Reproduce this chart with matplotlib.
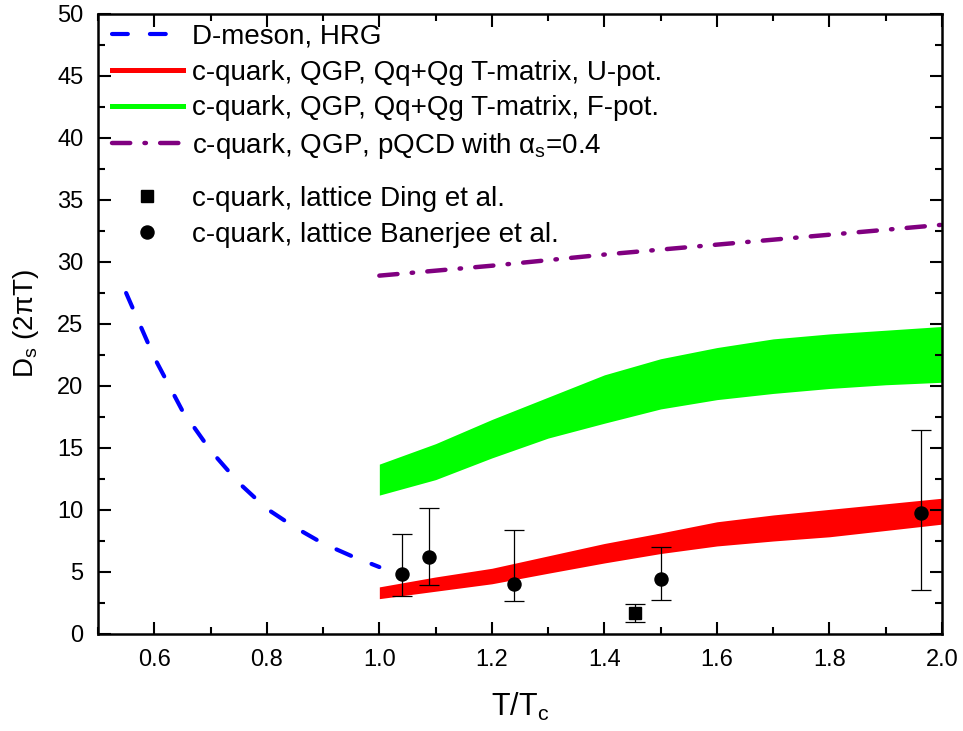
import matplotlib
matplotlib.use("Agg")
import matplotlib.pyplot as plt
from matplotlib.lines import Line2D
from matplotlib.ticker import MultipleLocator

plt.rcParams['font.family'] = ['Liberation Sans', 'DejaVu Sans']
plt.rcParams['mathtext.fontset'] = 'custom'
plt.rcParams['mathtext.rm'] = 'Liberation Sans'
plt.rcParams['mathtext.it'] = 'Liberation Sans'

# D-meson, HRG
t_hrg = [0.55, 0.60, 0.65, 0.70, 0.75, 0.80, 0.85, 0.90, 0.95, 1.00]
d_hrg = [27.5, 22.3, 18.0, 14.8, 12.2, 10.1, 8.6, 7.3, 6.3, 5.4]

# T-matrix bands
t_qgp = [1.0, 1.1, 1.2, 1.3, 1.4, 1.5, 1.6, 1.7, 1.8, 1.9, 2.0]
u_hi = [3.8, 4.6, 5.3, 6.3, 7.3, 8.15, 9.05, 9.6, 10.05, 10.5, 10.95]
u_lo = [2.85, 3.45, 4.05, 4.9, 5.73, 6.49, 7.1, 7.5, 7.84, 8.35, 8.86]
f_hi = [13.7, 15.35, 17.3, 19.1, 20.9, 22.2, 23.1, 23.8, 24.2, 24.5, 24.8]
f_lo = [11.2, 12.45, 14.2, 15.8, 17.0, 18.15, 18.9, 19.4, 19.8, 20.1, 20.3]

# pQCD
t_pqcd = [1.0, 1.2, 1.4, 1.6, 1.8, 2.0]
d_pqcd = [28.9, 29.7, 30.6, 31.4, 32.2, 33.0]

# lattice
t_ding = [1.455]
d_ding = [1.70]
ding_lo = [0.95]
ding_hi = [2.43]

t_ban = [1.04, 1.089, 1.24, 1.50, 1.962]
d_ban = [4.86, 6.22, 4.05, 4.41, 9.78]
ban_lo = [3.03, 3.97, 2.68, 2.78, 3.51]
ban_hi = [8.05, 10.19, 8.35, 7.05, 16.43]

blue_dash = (3.8, 5.3)
purple_dash = (4.1, 3.2, 0.33, 3.2)

fig = plt.figure(figsize=(9.63, 7.31), dpi=100)
ax = fig.add_axes([98/963, 97/731, 844/963, 620/731])

ax.fill_between(t_qgp, u_lo, u_hi, color='#ff0000', lw=0)
ax.fill_between(t_qgp, f_lo, f_hi, color='#00ff00', lw=0)
ax.plot(t_hrg, d_hrg, color='#0000ff', lw=3.0, dashes=blue_dash, dash_capstyle='round')
ax.plot(t_pqcd, d_pqcd, color='#800080', lw=3.2, dashes=purple_dash, dash_capstyle='round')

yerr_d = [[d - lo for d, lo in zip(d_ding, ding_lo)], [hi - d for d, hi in zip(d_ding, ding_hi)]]
yerr_b = [[d - lo for d, lo in zip(d_ban, ban_lo)], [hi - d for d, hi in zip(d_ban, ban_hi)]]
ax.errorbar(t_ding, d_ding, yerr=yerr_d, fmt='s', color='black', ms=8, elinewidth=0.9, capsize=7, capthick=0.9)
ax.errorbar(t_ban, d_ban, yerr=yerr_b, fmt='o', color='black', ms=9.4, elinewidth=0.9, capsize=7, capthick=0.9)

ax.set_xlim(0.5, 2.0)
ax.set_ylim(0, 50)
ax.xaxis.set_minor_locator(MultipleLocator(0.1))
ax.yaxis.set_major_locator(MultipleLocator(5))
ax.yaxis.set_minor_locator(MultipleLocator(2.5))
ax.set_xticks([0.6, 0.8, 1.0, 1.2, 1.4, 1.6, 1.8, 2.0])
ax.set_xticklabels(['0.6', '0.8', '1.0', '1.2', '1.4', '1.6', '1.8', '2.0'])
ax.tick_params(which='both', direction='in', top=True, right=True, width=1.5, labelsize=17)
ax.tick_params(which='major', length=9)
ax.tick_params(which='minor', length=5)
ax.tick_params(axis='x', pad=11)
ax.tick_params(axis='y', pad=10.5)
for s in ax.spines.values():
    s.set_linewidth(1.8)

ax.set_xlabel(r'T/T$_\mathregular{c}$', fontsize=22)
ax.set_ylabel(r'D$_\mathregular{s}$ (2$\pi$T)', fontsize=20)
ax.xaxis.set_label_coords(0.5, -0.091)
ax.yaxis.set_label_coords(-0.067, 0.5)

h_lines = [
    Line2D([], [], color='#0000ff', lw=3.0, dashes=blue_dash, dash_capstyle='round'),
    Line2D([], [], color='#ff0000', lw=3.6),
    Line2D([], [], color='#00ff00', lw=3.6),
    Line2D([], [], color='#800080', lw=3.2, dashes=purple_dash, dash_capstyle='round'),
]
l_lines = ['D-meson, HRG',
           'c-quark, QGP, Qq+Qg T-matrix, U-pot.',
           'c-quark, QGP, Qq+Qg T-matrix, F-pot.',
           r'c-quark, QGP, pQCD with $\alpha_\mathregular{s}$=0.4']
leg1 = ax.legend(h_lines, l_lines, loc='upper left', bbox_to_anchor=(14/844, 1 - 10/620),
                 frameon=False, fontsize=20, handlelength=2.55, handletextpad=0.32,
                 labelspacing=0.35, borderpad=0, borderaxespad=0)
ax.add_artist(leg1)

h_pts = [Line2D([], [], ls='none', marker='s', color='black', ms=8),
         Line2D([], [], ls='none', marker='o', color='black', ms=9.4)]
l_pts = ['c-quark, lattice Ding et al.', 'c-quark, lattice Banerjee et al.']
ax.legend(h_pts, l_pts, loc='upper left', bbox_to_anchor=(14/844, (634 - 186)/620),
          frameon=False, fontsize=20, handlelength=2.55, handletextpad=0.32,
          labelspacing=0.35, borderpad=0, borderaxespad=0)

fig.savefig('out.png', dpi=100)
